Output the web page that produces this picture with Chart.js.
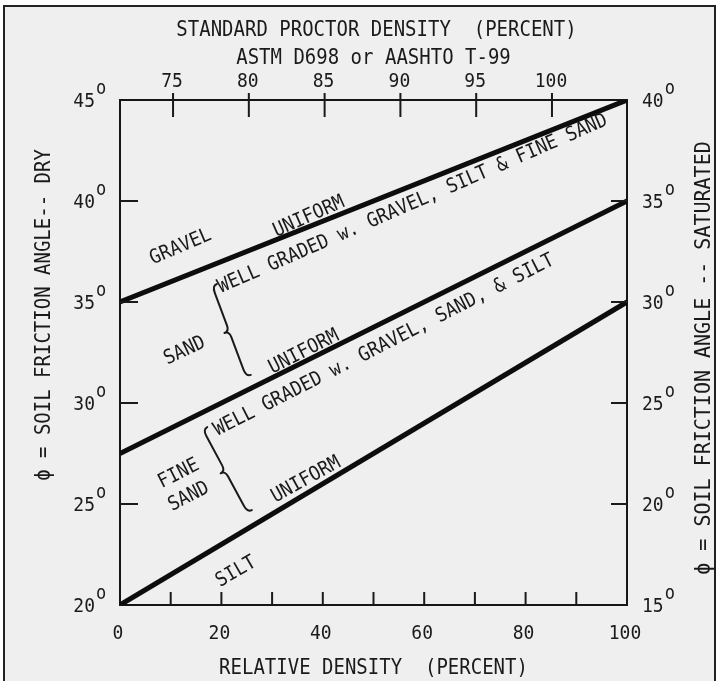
<!DOCTYPE html>
<html><head><meta charset="utf-8">
<script src="https://cdn.jsdelivr.net/npm/chart.js@4.4.0/dist/chart.umd.min.js"></script>
<style>html,body{margin:0;padding:0;background:#fff;}canvas{display:block;}</style>
</head><body>
<div style="width:719px;height:681px"><canvas id="c" width="719" height="681"></canvas></div>
<script>
// ---- data ----
const relDensity = [0, 100];
const gravelAngle = [35, 45];
const sandAngle = [27.5, 40];
const siltAngle = [20, 35];

const bottomTicks = [0, 10, 20, 30, 40, 50, 60, 70, 80, 90, 100];
const bottomLabels = [0, 20, 40, 60, 80, 100];
const topTicks = [75, 80, 85, 90, 95, 100];
const leftTicks = [20, 25, 30, 35, 40, 45];
const rightTicks = [15, 20, 25, 30, 35, 40];

const topTitle = ['STANDARD PROCTOR DENSITY  (PERCENT)', 'ASTM D698 or AASHTO T-99'];
const bottomTitle = 'RELATIVE DENSITY  (PERCENT)';
const leftTitle = 'ϕ = SOIL FRICTION ANGLE-- DRY';
const rightTitle = 'ϕ = SOIL FRICTION ANGLE -- SATURATED';

const noteTexts = ['GRAVEL', 'UNIFORM', 'WELL GRADED w. GRAVEL, SILT & FINE SAND',
  'SAND', 'UNIFORM', 'WELL GRADED w. GRAVEL, SAND, & SILT',
  'FINE', 'SAND', 'UNIFORM', 'SILT'];
const noteX = [11.8, 37.1, 57.6, 12.6, 36.1, 51.9, 11.4, 13.4, 36.5, 22.7];
const noteY = [37.82, 39.31, 39.95, 32.67, 32.62, 32.95, 26.58, 25.45, 26.29, 21.73];
const noteAngle = [23, 24, 23.5, 25, 27, 27, 27, 27, 29, 30];

const braceTop = [[19.1, 35.89], [17.2, 28.81]];
const braceBottom = [[25.8, 31.39], [26.0, 24.70]];

// ---- drawing helpers ----
const FONT = '"DejaVu Sans Mono", "Liberation Mono", monospace';
const INK = '#1a1a1a';
const SY = 1.1;
function txt(ctx, s, x, y, size, align, rot) {
  ctx.save();
  ctx.translate(x, y);
  ctx.rotate(-(rot || 0) * Math.PI / 180);
  ctx.scale(1, SY);
  ctx.font = size + 'px ' + FONT;
  ctx.fillStyle = INK;
  ctx.textAlign = align || 'center';
  ctx.textBaseline = 'alphabetic';
  ctx.fillText(s, 0, 0.365 * size);
  ctx.restore();
}
function degLabel(ctx, num, x, y, side) {
  const size = 18, w = String(num).length * size * 0.602;
  let xl = side === 'left' ? x - w : x;
  txt(ctx, String(num), xl, y, size, 'left', 0);
  ctx.save();
  ctx.translate(xl + w + 1, y - 6);
  ctx.scale(1, SY);
  ctx.font = '17px ' + FONT;
  ctx.fillStyle = INK;
  ctx.textAlign = 'left';
  ctx.textBaseline = 'alphabetic';
  ctx.fillText('o', 0, 0);
  ctx.restore();
}
function brace(ctx, x1, y1, x2, y2, w) {
  const dx = x2 - x1, dy = y2 - y1, L = Math.hypot(dx, dy);
  const ux = dx / L, uy = dy / L, nx = uy, ny = -ux;
  const P = (s, t) => [x1 + ux * s + nx * t, y1 + uy * s + ny * t];
  const m = L / 2;
  ctx.save();
  ctx.strokeStyle = INK; ctx.lineWidth = 2; ctx.lineCap = 'round'; ctx.lineJoin = 'round';
  ctx.beginPath();
  let p = P(0, 0); ctx.moveTo(p[0], p[1]);
  let c = P(0, -w), e = P(w * 1.5, -w); ctx.quadraticCurveTo(c[0], c[1], e[0], e[1]);
  e = P(m - w * 1.2, -w); ctx.lineTo(e[0], e[1]);
  c = P(m, -w); e = P(m, -2 * w); ctx.quadraticCurveTo(c[0], c[1], e[0], e[1]);
  c = P(m, -w); e = P(m + w * 1.2, -w); ctx.quadraticCurveTo(c[0], c[1], e[0], e[1]);
  e = P(L - w * 1.5, -w); ctx.lineTo(e[0], e[1]);
  c = P(L, -w); e = P(L, 0); ctx.quadraticCurveTo(c[0], c[1], e[0], e[1]);
  ctx.stroke();
  ctx.restore();
}

const bgPlugin = {
  id: 'bg',
  beforeDraw(chart) {
    const ctx = chart.ctx;
    ctx.save();
    ctx.fillStyle = '#ffffff';
    ctx.fillRect(0, 0, chart.width, chart.height);
    ctx.fillStyle = '#efefef';
    ctx.fillRect(4, 6, 711, 680);
    ctx.strokeStyle = '#222';
    ctx.lineWidth = 2;
    ctx.beginPath();
    ctx.moveTo(4, 690); ctx.lineTo(4, 6); ctx.lineTo(715, 6); ctx.lineTo(715, 690);
    ctx.stroke();
    ctx.restore();
  }
};

const decoPlugin = {
  id: 'deco',
  afterDraw(chart) {
    const ctx = chart.ctx, a = chart.chartArea, s = chart.scales;
    ctx.save();
    ctx.strokeStyle = INK; ctx.lineWidth = 2;
    ctx.beginPath();
    bottomTicks.forEach(v => { if (v > 0 && v < 100) { const x = s.x.getPixelForValue(v); ctx.moveTo(x, a.bottom); ctx.lineTo(x, a.bottom - 13); } });
    topTicks.forEach(v => { const x = s.x2.getPixelForValue(v); ctx.moveTo(x, a.top - 7); ctx.lineTo(x, a.top + 17); });
    leftTicks.forEach(v => { const y = s.y.getPixelForValue(v); if (y > a.top + 1 && y < a.bottom - 1) { ctx.moveTo(a.left, y); ctx.lineTo(a.left + 18, y); } });
    rightTicks.forEach(v => { const y = s.y2.getPixelForValue(v); if (y > a.top + 1 && y < a.bottom - 1) { ctx.moveTo(a.right, y); ctx.lineTo(a.right - 16, y); } });
    ctx.stroke();
    ctx.restore();

    // tick labels
    bottomLabels.forEach(v => txt(ctx, String(v), s.x.getPixelForValue(v) - 2, a.bottom + 27, 18, 'center', 0));
    topTicks.forEach(v => txt(ctx, String(v), s.x2.getPixelForValue(v) - 1, a.top - 20, 18, 'center', 0));
    leftTicks.forEach(v => degLabel(ctx, v, a.left - 25, s.y.getPixelForValue(v), 'left'));
    rightTicks.forEach(v => degLabel(ctx, v, a.right + 15, s.y2.getPixelForValue(v), 'right'));

    // titles
    const cx = (a.left + a.right) / 2;
    txt(ctx, topTitle[0], cx + 3, 28, 19, 'center', 0);
    txt(ctx, topTitle[1], cx, 56, 19, 'center', 0);
    txt(ctx, bottomTitle, cx, a.bottom + 61, 19, 'center', 0);
    txt(ctx, leftTitle, 42, 315, 19, 'center', 90);
    txt(ctx, rightTitle, 702, 358, 20, 'center', 90);

    // annotations
    noteTexts.forEach((t, i) => txt(ctx, t, s.x.getPixelForValue(noteX[i]), s.y.getPixelForValue(noteY[i]), 18, 'center', noteAngle[i]));
    braceTop.forEach((p, i) => brace(ctx, s.x.getPixelForValue(p[0]), s.y.getPixelForValue(p[1]),
      s.x.getPixelForValue(braceBottom[i][0]), s.y.getPixelForValue(braceBottom[i][1]), 5));
  }
};

const mk = (ys) => relDensity.map((x, i) => ({ x: x, y: ys[i] }));
const lineDs = (label, ys) => ({
  label: label, data: mk(ys), xAxisID: 'x', yAxisID: 'y',
  borderColor: '#0d0d0d', borderWidth: 5, pointRadius: 0, showLine: true, fill: false,
  borderCapStyle: 'butt', tension: 0
});
const axisBase = (pos, min, max, size) => ({
  type: 'linear', position: pos, min: min, max: max,
  grid: { display: false },
  border: { display: true, color: '#161616', width: 2 },
  ticks: { display: false },
  afterFit(sc) { if (pos === 'left' || pos === 'right') sc.width = size; else sc.height = size; }
});

new Chart(document.getElementById('c'), {
  type: 'scatter',
  data: { datasets: [lineDs('Gravel', gravelAngle), lineDs('Sand', sandAngle), lineDs('Silt', siltAngle)] },
  options: {
    responsive: false, animation: false, devicePixelRatio: 1,
    layout: { padding: 0 },
    plugins: { legend: { display: false }, tooltip: { enabled: false } },
    scales: {
      x: axisBase('bottom', 0, 100, 76),
      x2: axisBase('top', 71.5, 104.95, 100),
      y: axisBase('left', 20, 45, 120),
      y2: axisBase('right', 15, 40, 92)
    }
  },
  plugins: [bgPlugin, decoPlugin]
});
</script>
</body></html>
